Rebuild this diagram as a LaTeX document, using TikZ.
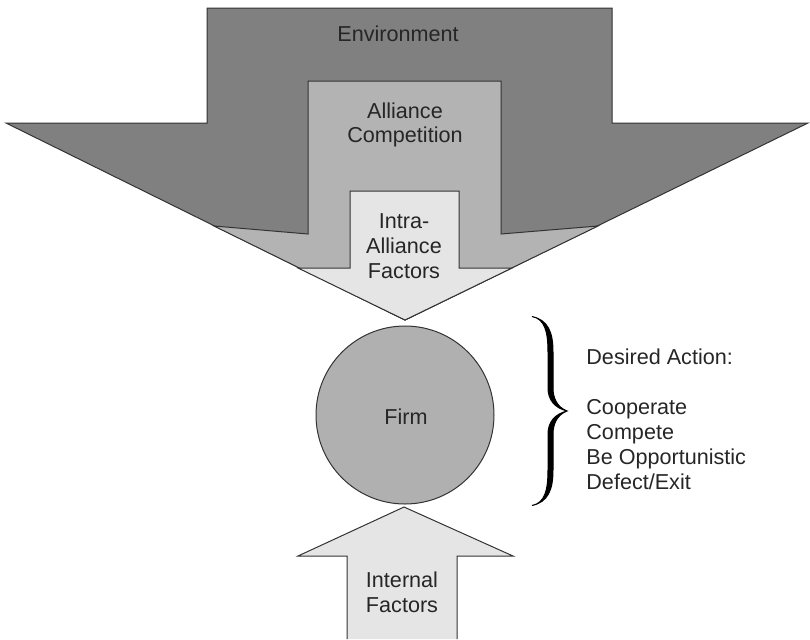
\documentclass[tikz,border=0pt]{standalone}
\usepackage{fontspec}
\setmainfont{Liberation Sans}
\usepackage{tikz}
\usetikzlibrary{positioning,shapes}
\tikzset{
  txt/.style={align=center, text=black!85, font=\fontsize{10.8}{12.4}\selectfont},
  outline/.style={draw=black!80, line width=0.5pt},
}

\begin{document}
\begin{tikzpicture}[x=0.5pt, y=-0.5pt]
    % Define colors
    \definecolor{envcolor}{RGB}{128,128,128}
    \definecolor{alliancecolor}{RGB}{179,179,179}
    \definecolor{intracolor}{RGB}{229,229,229}
    \definecolor{firmcolor}{RGB}{176,176,176}

    \useasboundingbox (0,0) rectangle (810,639);

    % Draw the three nested arrows
    \draw[outline, fill=envcolor] (207,8) -- (612,8) -- (612,123) -- (808,123)
      -- (405,320) -- (6,123) -- (207,123) -- cycle;
    \draw[outline, fill=alliancecolor] (308,81) -- (501,81) -- (501,234) -- (598,226)
      -- (405,320) -- (214,226) -- (308,234) -- cycle;
    \draw[outline, fill=intracolor] (350,191) -- (459,191) -- (459,268) -- (512,268)
      -- (405,320) -- (298,268) -- (350,268) -- cycle;

    % Draw the arrow from below
    \draw[outline, fill=intracolor] (347,639) -- (347,556) -- (298,556) -- (404,507)
      -- (513,556) -- (457,556) -- (457,639);

    % Add the firm
    \node[outline, circle, fill=firmcolor, minimum size=89pt, inner sep=0pt] (firm) at (405,415) {};
    \node[txt] (firmtext) at (406,417) {Firm};

    % Add arrow labels
    \node[txt] (env) at (398,34) {Environment};
    \node[txt] (allcomp) at (405,125) {Alliance\\Competition};
    \node[txt] (intra) at (404,246) {Intra-\\Alliance\\Factors};
    \node[txt] (internal) at (402,592) {Internal\\Factors};

    % Add brace and desired actions
    \filldraw[black, line width=0.5pt] (532,316.5) .. controls (545,319) and (548,332) .. (548,352)
      -- (548,388) .. controls (548,400) and (555,408) .. (567,411)
      .. controls (555,414) and (548,422) .. (548,434) -- (548,470)
      .. controls (548,490) and (545,503) .. (532,505.5)
      .. controls (548,502) and (553,490) .. (553,470) -- (553,434)
      .. controls (553,424) and (557,415) .. (567,411)
      .. controls (557,407) and (553,398) .. (553,388) -- (553,352)
      .. controls (553,332) and (548,320) .. (532,316.5) -- cycle;
    \node[txt, align=left, anchor=west, inner sep=0pt,
      font=\fontsize{10.8}{12.5}\selectfont] (actions) at (586,419)
      {Desired Action:\\\mbox{}\\Cooperate\\Compete\\Be Opportunistic\\Defect/Exit};
\end{tikzpicture}
\end{document}
